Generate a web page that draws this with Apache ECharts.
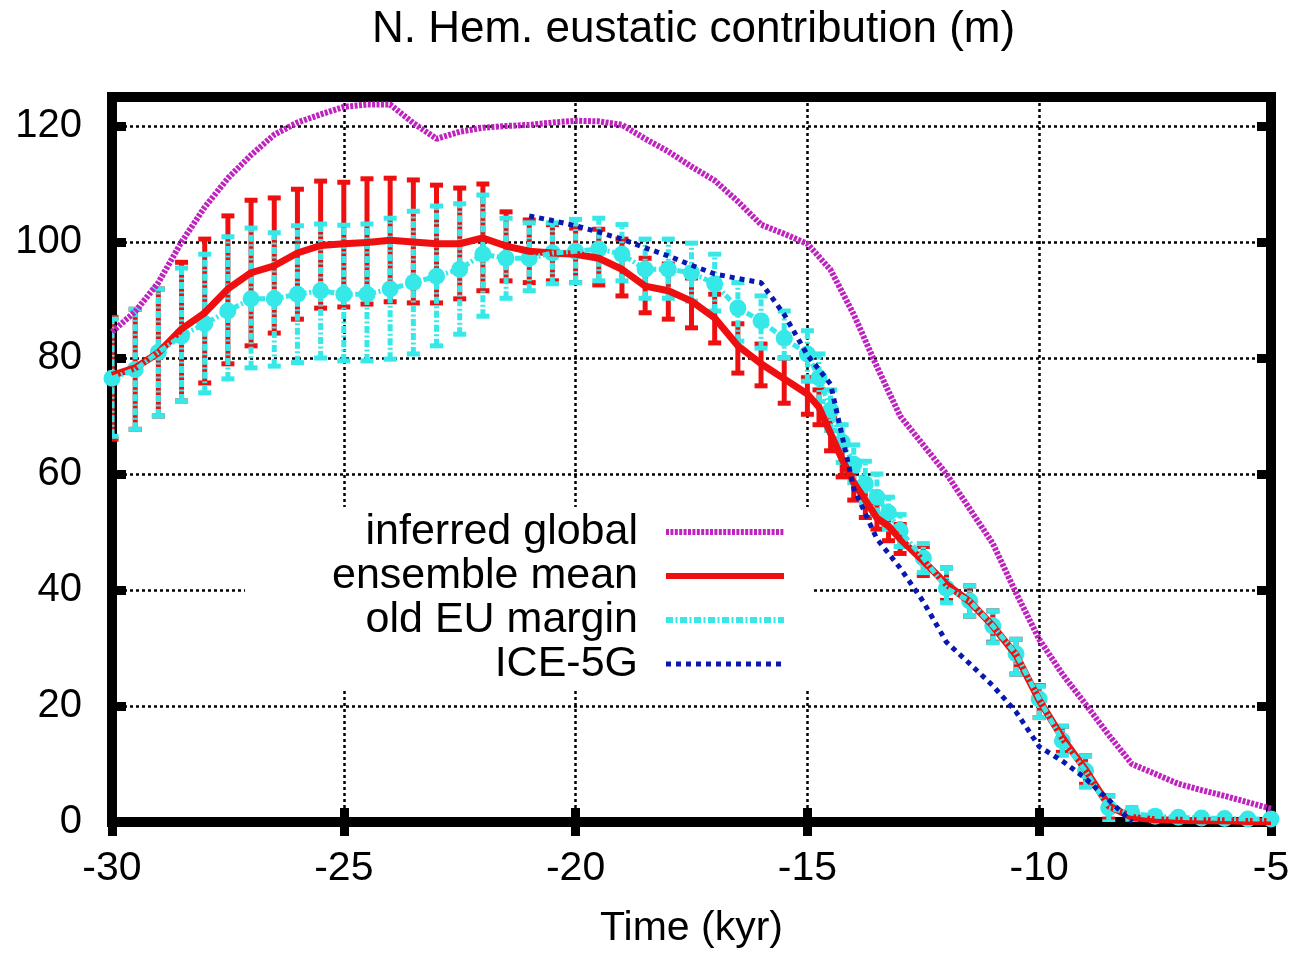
<!DOCTYPE html>
<html>
<head>
<meta charset="utf-8">
<script src="https://cdn.jsdelivr.net/npm/echarts@6/dist/echarts.min.js"></script>
<style>
html,body{margin:0;padding:0;background:#fff;}
#chart{width:1293px;height:959px;}
</style>
</head>
<body>
<div id="chart"></div>
<script>
// ---- data ----
const xTicks = [-30, -25, -20, -15, -10, -5];
const yTicks = [0, 20, 40, 60, 80, 100, 120];

const timeErr = [-30,-29.5,-29,-28.5,-28,-27.5,-27,-26.5,-26,-25.5,-25,-24.5,-24,-23.5,-23,-22.5,-22,-21.5,-21,-20.5,-20,-19.5,-19,-18.5,-18,-17.5,-17,-16.5,-16,-15.5,-15,-14.75,-14.5,-14.25,-14,-13.75,-13.5,-13.25,-13,-12.5,-12,-11.5,-11,-10.5,-10,-9.5,-9,-8.5,-8,-7.5,-7,-6.5,-6,-5.5,-5];

const ensMean = [77,78.3,80.9,85,87.8,91.9,94.7,95.9,98.1,99.4,99.7,99.9,100.3,100,99.7,99.7,100.7,99.3,98.4,98.1,97.9,97.2,95.3,92.4,91.6,89.8,86.9,82.1,79,76.4,73.8,71.5,67,62.5,58.5,55.5,52.4,51,48.8,45,41,38,33.8,28.8,21,14.5,9,2.8,0.8,0.4,0.3,0.2,0.2,0.1,0.1];
const ensLow  = [66,67.7,70,72.6,75.7,79,82.1,84.3,86.7,88.6,88.8,89.3,89.7,89.5,89.5,90.2,91.6,93.3,93,93.3,93,92.6,90.7,87.8,86.7,85.2,82.6,77.4,75.2,72.2,70.3,68.5,64,59.5,55.5,52.5,50.5,48.5,46.3,42.5,38.2,35.5,31,25.5,18,12,6.5,0.5,0,0.4,0.3,0.2,0.2,0.1,0.1];
const ensHigh = [87,88.4,91.9,96.5,100.5,104.5,107.2,107.6,109.1,110.5,110.3,110.9,111,110.7,109.8,109.3,110,105.2,103.8,103,102.4,102.2,100.5,97.2,96.2,93.8,91,85.9,82.4,80,76.6,74.5,70,65.5,61.5,58.5,55,53.5,51.3,47.5,43.8,40.7,36.4,31.5,23.5,16.5,11.4,4.5,1.5,0.4,0.3,0.2,0.2,0.1,0.1];

const euMean = [76.5,78,81,83.8,85.9,88.1,90.2,90.2,91,91.6,91,91,91.9,93,94.1,95.3,97.9,97.2,97.2,98.1,98.4,98.8,97.9,95.3,95.3,94.7,92.8,88.6,86.4,83.4,80.7,76.6,71,65.5,61.7,58.3,56,53.3,50.2,45.5,40.3,38.1,33.8,29,21.2,14,8.8,2.4,1.5,1,0.8,0.7,0.6,0.5,0.5];
const euLow  = [66.5,67.7,70,72.6,74,76.4,78.3,78.6,79.2,80,79.5,79.5,79.8,80.7,82.1,84.1,87.2,90.3,91.6,92.8,93,93.3,93.3,90.3,90.3,89.8,88.1,82.9,81.7,80,76,72.5,67.5,62,58.5,55,53,50.5,47.5,43,37.8,35.5,30.9,25.5,18,11.5,6,0,0.5,0.3,0.3,0.2,0.2,0.1,0.1];
const euHigh = [86.7,88.4,91.9,95.5,97.9,100.9,102.4,101.6,102.8,103.1,102.9,103.1,104.1,105.3,106.2,106.6,108.1,104.1,103.3,103.3,103.9,104.1,103,100.5,100.5,99.8,97.9,93,90.7,88.1,84.7,80.7,74.5,68.5,65,62.2,60,56,53,48,43.8,40.7,36.4,31.5,23.4,16.5,11.4,4.5,2.5,1.7,1.3,1.2,1.1,1,1];

const timeGlobal = [-30,-29.5,-29,-28.5,-28,-27.5,-27,-26.5,-26,-25.5,-25,-24.5,-24,-23.5,-23,-22.5,-22,-21.5,-21,-20.5,-20,-19.5,-19,-18.5,-18,-17.5,-17,-16.5,-16,-15.5,-15,-14.5,-14,-13.5,-13,-12.5,-12,-11.5,-11,-10.5,-10,-9.5,-9,-8.5,-8,-7.5,-7,-6.5,-6,-5.5,-5];
const globalVals = [84.5,88,93,100,106,111,115,118.5,120.6,122,123.3,123.7,123.7,120.5,117.8,119,119.7,120,120.2,120.6,120.9,120.8,120.2,117.8,115.6,113,110.6,107,103,101.4,99.7,95.2,87.5,78.5,70,65,60,54,48,39.5,31.5,25.5,20.3,15,10,8.3,6.6,5.5,4.5,3.4,2.3];

const timeIce = [-21,-20.5,-20,-19.5,-19,-18.5,-18,-17.5,-17,-16.5,-16,-15.5,-15,-14.5,-14,-13.5,-13,-12.5,-12,-11.5,-11,-10.5,-10,-9.5,-9,-8.5,-8];
const iceVals = [104.5,103.7,102.8,101.7,100.5,99,97.6,96,94.5,93.7,93,87.5,80.5,75.5,57.5,48.8,43.8,38,31,27.3,23.5,19,13,10.5,7.5,3.8,0];

const seriesNames = ['inferred global', 'ensemble mean', 'old EU margin', 'ICE-5G'];

// ---- styling ----
const FONT = "'Liberation Sans', Arial, Helvetica, sans-serif";
const C_MAG = '#bf22bf', C_RED = '#ee1010', C_CYAN = '#36e8e8', C_BLUE = '#0818b0';

const zip2 = (xs, ys) => xs.map((x, i) => [x, ys[i]]);
const zip3 = (xs, a, b) => xs.map((x, i) => [x, a[i], b[i]]);

function errRender(color, dash, lw, capW) {
  return function (params, api) {
    const t = api.value(0), lo = api.value(1), hi = api.value(2);
    const p1 = api.coord([t, lo]);
    const p2 = api.coord([t, hi]);
    const h = capW / 2;
    return {
      type: 'group',
      children: [
        { type: 'line', shape: { x1: p1[0], y1: p1[1], x2: p2[0], y2: p2[1] },
          style: { stroke: color, lineWidth: lw, lineDash: dash } },
        { type: 'line', shape: { x1: p1[0] - h, y1: p1[1], x2: p1[0] + h, y2: p1[1] },
          style: { stroke: color, lineWidth: lw } },
        { type: 'line', shape: { x1: p2[0] - h, y1: p2[1], x2: p2[0] + h, y2: p2[1] },
          style: { stroke: color, lineWidth: lw } }
      ]
    };
  };
}

const gridLine = { show: true, lineStyle: { color: '#000', width: 2.5, type: [3, 3] } };
const tickStyle = { show: true, inside: true, length: 14, lineStyle: { color: '#000', width: 9 } };
const hideSym = { opacity: 0 };

const chart = echarts.init(document.getElementById('chart'), null, { renderer: 'canvas' });
chart.setOption({
  animation: false,
  backgroundColor: '#fff',
  title: {
    text: 'N. Hem. eustatic contribution (m)',
    left: 367, top: 3,
    textStyle: { fontFamily: FONT, fontSize: 44, fontWeight: 'normal', color: '#000' }
  },
  grid: {
    left: 112, right: 22, top: 97, bottom: 137,
    show: true, borderColor: '#000', borderWidth: 10, backgroundColor: 'transparent'
  },
  legend: {
    orient: 'vertical', align: 'right',
    right: 481, top: 507,
    itemWidth: 118, itemHeight: 14, itemGap: 0,
    padding: [3, 25, 2, 87],
    backgroundColor: '#fff',
    selectedMode: false,
    itemStyle: hideSym,
    textStyle: { fontFamily: FONT, fontSize: 43, color: '#000', lineHeight: 44, padding: [0, 23, 0, 0] },
    data: [
      { name: seriesNames[0], lineStyle: { width: 6 }, itemStyle: hideSym },
      { name: seriesNames[1], lineStyle: { width: 6 }, itemStyle: hideSym },
      { name: seriesNames[2], lineStyle: { width: 6 }, itemStyle: hideSym },
      { name: seriesNames[3], lineStyle: { width: 5 }, itemStyle: hideSym }
    ]
  },
  xAxis: [{
    type: 'value', min: xTicks[0], max: xTicks[xTicks.length - 1], interval: 5,
    axisLine: { show: false }, axisTick: tickStyle, splitLine: gridLine,
    axisLabel: { margin: 26, fontFamily: FONT, fontSize: 41, color: '#000' },
    name: 'Time (kyr)', nameLocation: 'middle', nameGap: 86,
    nameTextStyle: { fontFamily: FONT, fontSize: 41, color: '#000' }
  }, {
    type: 'value', position: 'top', min: xTicks[0], max: xTicks[xTicks.length - 1], interval: 5,
    axisLine: { show: false }, axisTick: tickStyle, splitLine: { show: false }, axisLabel: { show: false }
  }],
  yAxis: [{
    type: 'value', min: yTicks[0], max: 125, interval: 20,
    axisLine: { show: false }, axisTick: tickStyle, splitLine: gridLine,
    axisLabel: { margin: 30, fontFamily: FONT, fontSize: 40, color: '#000', showMaxLabel: false }
  }, {
    type: 'value', position: 'right', min: yTicks[0], max: 125, interval: 20,
    axisLine: { show: false }, axisTick: tickStyle, splitLine: { show: false }, axisLabel: { show: false }
  }],
  series: [
    {
      name: seriesNames[0], type: 'line', data: zip2(timeGlobal, globalVals),
      symbol: 'none', lineStyle: { color: C_MAG, width: 6, type: [3, 1.4] }, itemStyle: { color: C_MAG }
    },
    {
      name: 'ens-err', type: 'custom', renderItem: errRender(C_RED, null, 5, 13),
      data: zip3(timeErr, ensLow, ensHigh), encode: { x: 0, y: [1, 2] }, clip: true
    },
    {
      name: seriesNames[1], type: 'line', data: zip2(timeErr, ensMean),
      symbol: 'none', lineStyle: { color: C_RED, width: 7 }, itemStyle: { color: C_RED }
    },
    {
      name: 'eu-err', type: 'custom', renderItem: errRender(C_CYAN, [7, 2.5, 2, 2.5], 5, 13),
      data: zip3(timeErr, euLow, euHigh), encode: { x: 0, y: [1, 2] }, clip: true
    },
    {
      name: seriesNames[2], type: 'line', data: zip2(timeErr, euMean),
      symbol: 'none', lineStyle: { color: C_CYAN, width: 5, type: [7, 2.5, 2, 2.5] }, itemStyle: { color: C_CYAN }
    },
    {
      name: 'eu-pts', type: 'scatter', data: zip2(timeErr, euMean),
      symbol: 'circle', symbolSize: 17, itemStyle: { color: C_CYAN, opacity: 1 }
    },
    {
      name: seriesNames[3], type: 'line', data: zip2(timeIce, iceVals),
      symbol: 'none', lineStyle: { color: C_BLUE, width: 5, type: [5, 5] }, itemStyle: { color: C_BLUE }
    }
  ]
});
</script>
</body>
</html>
